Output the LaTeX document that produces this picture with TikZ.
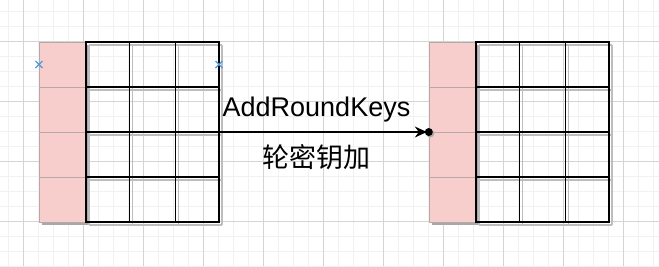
\documentclass[tikz,border=0pt]{standalone}
\usepackage{fontspec}
\setmainfont{Liberation Sans}
\newfontfamily\cjk{Noto Sans CJK SC}
\usetikzlibrary{arrows.meta}
\definecolor{pinkfill}{HTML}{F8CECC}
\definecolor{pinkedge}{HTML}{B8A8A8}
\definecolor{gridminor}{HTML}{F1F1F1}
\definecolor{gridmajor}{HTML}{D4D4D4}
\definecolor{shadowgray}{HTML}{A8A8A8}
\definecolor{cellshadow}{HTML}{BDBDBD}
\definecolor{markblue}{HTML}{4A9BE0}
\newcommand\aesgrid[2]{%
  \begin{scope}[shift={(#1,#2)}]
    % pink column shadow and fill
    \fill[shadowgray] (3,3) rectangle (50,183);
    \foreach \r in {0,45,90,135}{
      \filldraw[pinkfill,draw=pinkedge,line width=0.6pt] (0,\r) rectangle (47,\r+45);
    }
    % cell border shadows
    \foreach \xx in {47,90.5,136.5,180}{
      \draw[cellshadow,line width=1.2pt] (\xx+3,3) -- (\xx+3,183);
    }
    \foreach \yy in {0,45,90,135,180}{
      \draw[cellshadow,line width=1.2pt] (50,\yy+3) -- (183,\yy+3);
    }
    % cell borders
    \foreach \xx in {47,90.5,136.5,180}{
      \draw[cellline] (\xx,0) -- (\xx,180);
    }
    \foreach \yy in {0,45,90,135,180}{
      \draw[cellline] (47,\yy) -- (180,\yy);
    }
  \end{scope}}
\begin{document}
\begin{tikzpicture}[x=1pt,y=-1pt,
  cellline/.style={black,line width=1.3pt,line cap=rect},
  matrixbox/.style={draw=none,minimum width=180pt,minimum height=180pt,inner sep=0pt},
  lbl/.style={inner sep=0pt,text=black},
  conn/.style={black,line width=1.3pt,-{Stealth[length=12pt,width=11pt,inset=4pt]}},
  bluex/.style={markblue,line width=1.3pt}]
\useasboundingbox (0,0) rectangle (659,266);
\fill[white] (0,0) rectangle (659,266);
% background grid
\foreach \i in {0,...,43}{\draw[gridminor,line width=0.8pt] ({8.5+15*\i},0) -- ({8.5+15*\i},266);}
\foreach \i in {0,...,17}{\draw[gridminor,line width=0.8pt] (0,{11.5+15*\i}) -- (659,{11.5+15*\i});}
\foreach \i in {0,...,10}{\draw[gridmajor,line width=0.8pt] ({23.5+60*\i},0) -- ({23.5+60*\i},266);}
\foreach \i in {0,...,3}{\draw[gridmajor,line width=0.8pt] (0,{41.5+60*\i}) -- (659,{41.5+60*\i});}
% matrices
\node[matrixbox] (L) at (129,132) {};
\node[matrixbox] (R) at (519,132) {};
\aesgrid{39}{42}
\aesgrid{429}{42}
% selection markers
\coordinate (m1) at (39,64.5);
\coordinate (m2) at (219,64.5);
\draw[bluex] (m1) ++(-3.5,-3.5) -- ++(7,7) (m1) ++(-3.5,3.5) -- ++(7,-7);
\draw[bluex] (m2) ++(-3.5,-3.5) -- ++(7,7) (m2) ++(-3.5,3.5) -- ++(7,-7);
% connector
\draw[conn] (L.east) -- ([xshift=-2pt]R.west);
\fill[shadowgray] ([shift={(1.5,1.5)}]R.west) circle (4);
\fill[black] (R.west) circle (4);
% labels
\node[lbl,font=\fontsize{27}{32}\selectfont] (t1) at (316.5,110) {AddRoundKeys};
\node[lbl,font=\cjk\fontsize{27}{32}\selectfont] (t2) at (316.5,157) {轮密钥加};
\end{tikzpicture}
\end{document}
